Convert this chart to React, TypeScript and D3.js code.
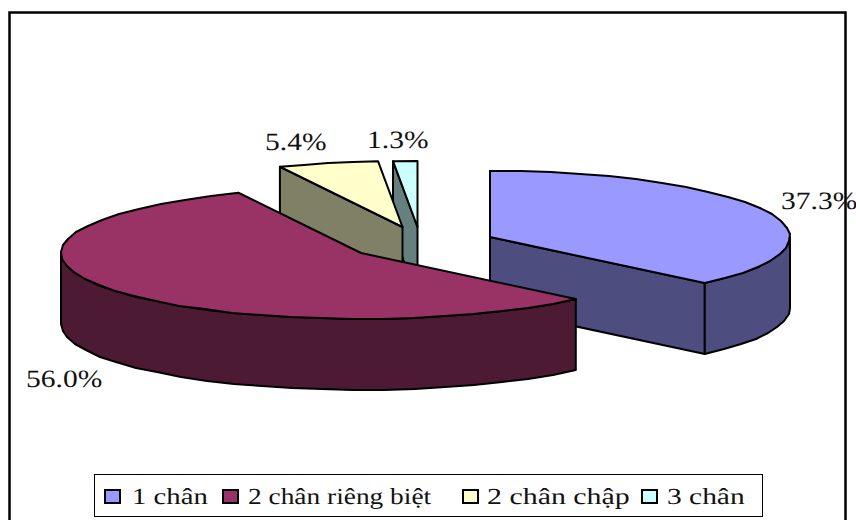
import React from "react";
import * as d3 from "d3";

const categories = ["1 chân", "2 chân riêng biệt", "2 chân chập", "3 chân"];
const shares = [37.3, 56.0, 5.4, 1.3];
const shareLabels = ["37.3%", "56.0%", "5.4%", "1.3%"];
const topColors = ["#9999ff", "#993366", "#ffffcc", "#ccffff"];
const wallColors = ["#4d4d80", "#4d1a33", "#808066", "#668080"];

const W = 856;
const H = 520;
const RX = 300;
const RY = 66;
const DEPTH = 71;
const FONT = "'Liberation Serif', 'Times New Roman', serif";
const LABEL_STRETCH = 1.18;

// Exploded centre of each slice's top face.
const centres: [number, number][] = [
  [490, 237],
  [361, 253],
  [402.5, 227],
  [417.5, 227],
];
// Anchor of each percentage label (left edge, baseline).
const labelSpots: [number, number][] = [
  [781, 209],
  [26, 387],
  [265, 150],
  [367, 148],
];
// Left edge of each legend swatch and of its text, and the text's horizontal stretch.
const legendSwatchX = [104, 222, 462, 641];
const legendTextX = [132, 248, 487, 667];
const legendStretch = [1.25, 1.19, 1.3, 1.28];

const slices = d3
  .pie<number>()
  .sort(null)
  .startAngle(0)
  .endAngle(2 * Math.PI)(shares);

const line = d3.line<[number, number]>();

// Rim of the ellipse between two angles, clockwise from north. Inner points
// land on whole pixels, which gives the outline a faintly stepped look.
function rim(c: [number, number], a0: number, a1: number, dy = 0): [number, number][] {
  const n = Math.max(1, Math.ceil((a1 - a0) / (Math.PI / 30)));
  return d3.range(n + 1).map((i) => {
    const a = a0 + ((a1 - a0) * i) / n;
    const x = c[0] + RX * Math.sin(a);
    const y = c[1] - RY * Math.cos(a) + dy;
    if (i === 0 || i === n) return [x, y] as [number, number];
    return [Math.round(x), Math.round(y)] as [number, number];
  });
}

const closed = (pts: [number, number][]) => (line(pts) ?? "") + "Z";

function Slice({ index }: { index: number }) {
  const s = slices[index];
  const c = centres[index];
  const a0 = s.startAngle;
  const a1 = s.endAngle;
  const top = rim(c, a0, a1);
  const first = top[0];
  const last = top[top.length - 1];
  const walls: string[] = [];

  // Cut faces seen from the front: the start face looks left, the end face looks right.
  if (Math.sin(a0) <= 0) {
    walls.push(closed([first, c, [c[0], c[1] + DEPTH], [first[0], first[1] + DEPTH]]));
  }
  if (Math.sin(a1) >= 0 && a1 < Math.PI) {
    walls.push(closed([c, last, [last[0], last[1] + DEPTH], [c[0], c[1] + DEPTH]]));
  }
  if (index === 0) {
    walls.push(closed([[c[0], c[1] - RY], c, [c[0], c[1] + DEPTH], [c[0], c[1] - RY + DEPTH]]));
  }
  // Outer rim: only the part facing the viewer (east to west through south).
  const f0 = Math.max(a0, Math.PI / 2);
  const f1 = Math.min(a1, (3 * Math.PI) / 2);
  if (f1 > f0) {
    const upper = rim(c, f0, f1);
    const lower = rim(c, f0, f1, DEPTH).reverse();
    walls.push(closed([...upper, ...lower]));
  }

  return (
    <g stroke="#000" strokeWidth={2} strokeLinejoin="round">
      {walls.map((d, i) => (
        <path key={i} d={d} fill={wallColors[index]} />
      ))}
      <path d={closed([c, ...top])} fill={topColors[index]} />
    </g>
  );
}

export default function App() {
  return (
    <svg
      width={W}
      height={H}
      viewBox={`0 0 ${W} ${H}`}
      style={{ position: "absolute", left: 0, top: 0, display: "block", background: "#fff" }}
    >
      <rect x={9.5} y={12.5} width={836} height={520} fill="#fff" stroke="#000" strokeWidth={2.5} />

      {/* Back to front so the nearer slices cover the farther ones. */}
      {[0, 3, 2, 1].map((i) => (
        <Slice key={i} index={i} />
      ))}

      {shareLabels.map((t, i) => (
        <text
          key={t}
          transform={`translate(${labelSpots[i][0]},${labelSpots[i][1]}) scale(${LABEL_STRETCH},1)`}
          fontFamily={FONT}
          fontSize={25}
          fill="#111"
          textRendering="geometricPrecision"
        >
          {t}
        </text>
      ))}

      <rect x={94.5} y={474.5} width={668} height={42} fill="#fff" stroke="#000" strokeWidth={1} />
      {categories.map((t, i) => (
        <g key={t}>
          <rect
            x={legendSwatchX[i] + 1}
            y={490}
            width={15}
            height={13}
            fill={topColors[i]}
            stroke="#000"
            strokeWidth={2}
          />
          <text
            transform={`translate(${legendTextX[i]},504) scale(${legendStretch[i]},1)`}
            fontFamily={FONT}
            fontSize={23}
            fill="#111"
            textRendering="geometricPrecision"
          >
            {t}
          </text>
        </g>
      ))}
    </svg>
  );
}
